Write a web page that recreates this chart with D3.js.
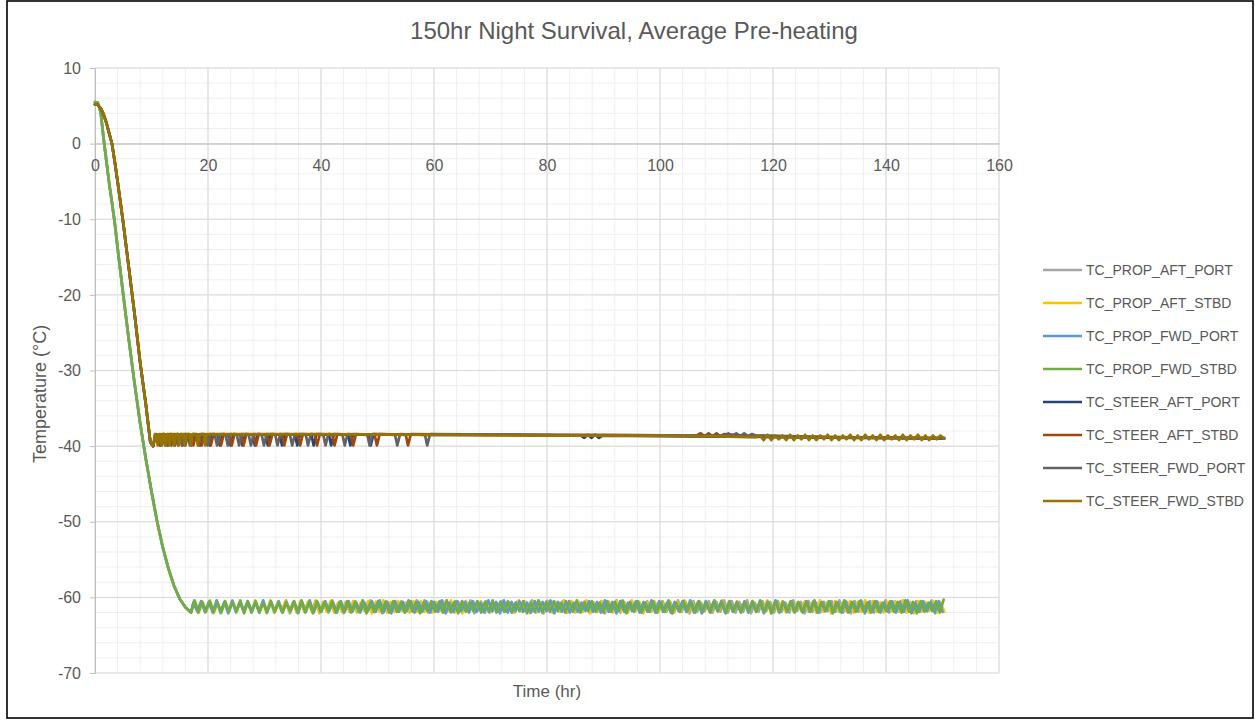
<!DOCTYPE html>
<html>
<head>
<meta charset="utf-8">
<script src="https://cdn.jsdelivr.net/npm/d3@7"></script>
<style>
  html, body { margin: 0; padding: 0; background: #fff; }
  svg { display: block; font-family: "Liberation Sans", Arial, sans-serif; }
</style>
</head>
<body>
<svg id="chart" width="1255" height="721"></svg>
<script>
// ---------------- DATA ----------------
const chartTitle = "150hr Night Survival, Average Pre-heating";
const xAxisTitle = "Time (hr)";
const yAxisTitle = "Temperature (°C)";
const xTickValues = [0, 20, 40, 60, 80, 100, 120, 140, 160];
const yTickValues = [10, 0, -10, -20, -30, -40, -50, -60, -70];

const seriesNames = ["TC_PROP_AFT_PORT", "TC_PROP_AFT_STBD", "TC_PROP_FWD_PORT", "TC_PROP_FWD_STBD",
                     "TC_STEER_AFT_PORT", "TC_STEER_AFT_STBD", "TC_STEER_FWD_PORT", "TC_STEER_FWD_STBD"];
const seriesColors = ["#A5A5A5", "#FFC000", "#5B9BD5", "#70AD47", "#264478", "#9E480E", "#636363", "#997300"];

// cool-down from start (prop sensors)
const propDescentHours = [0, 0.5, 1, 1.5, 2, 2.5, 3, 3.5, 4, 5, 6, 7, 8, 9, 10, 11, 12, 13, 14, 15, 16, 17];
const propDescentTemps = [5.5, 5.4, 4.2, 0.8, -2.2, -5.2, -7.8, -10.5, -13.8, -20, -26, -31.7, -37, -41.7, -46, -50, -53.4, -56.2, -58.5, -60.2, -61.3, -62];
// cool-down from start (steering sensors)
const steerDescentHours = [0, 0.5, 1, 1.5, 2, 2.5, 3, 3.5, 4, 5, 6, 7, 8, 9, 9.8, 10.3];
const steerDescentTemps = [5.2, 5.1, 4.7, 3.9, 2.8, 1.4, 0, -2.4, -5, -10.5, -16.5, -22.5, -29, -34.5, -39.5, -40];

// heater cycling of prop sensors (readings evenly logged between start and end hour)
const propCycleStartHours = [17.5, 17.7, 17.4, 17.6];
const propCycleEndHours = [150.1, 150.3, 150.0, 150.2];
const propAftPortTemps = [
-60.6,-61.9,-60.5,-62.0,-60.7,-61.8,-60.5,-62.1,-60.6,-61.9,-60.4,-62.0,-60.6,-61.9,-60.5,-61.8,-60.7,-62.0,-60.5,-61.9,
-60.5,-62.0,-60.6,-61.9,-60.4,-62.1,-60.7,-61.9,-60.5,-61.8,-60.6,-62.0,-60.5,-61.9,-60.7,-62.0,-60.4,-61.8,-60.6,-62.1,
-60.7,-61.8,-60.5,-61.9,-60.6,-62.0,-60.4,-61.9,-60.6,-62.1,-60.5,-61.9,-60.7,-61.8,-60.5,-62.0,-60.6,-61.9,-60.4,-62.0,
-60.4,-62.0,-60.6,-61.8,-60.5,-61.9,-60.7,-62.0,-60.5,-61.9,-60.6,-61.8,-60.4,-62.1,-60.6,-61.9,-60.5,-62.0,-60.7,-61.9,
-60.5,-61.9,-60.7,-62.0,-60.6,-61.8,-60.5,-61.9,-60.4,-62.0,-60.6,-62.1,-60.5,-61.9,-60.6,-61.8,-60.5,-62.0,-60.6,-61.9,
-60.6,-61.9,-60.5,-62.0,-60.7,-61.8,-60.5,-62.1,-60.6,-61.9,-60.4,-62.0,-60.6,-61.9,-60.5,-61.8,-60.7,-62.0,-60.5,-61.9,
-60.7,-61.8,-60.5,-61.9,-60.6,-62.0,-60.4,-61.9,-60.6,-62.1,-60.5,-61.9,-60.7,-61.8,-60.5,-62.0,-60.6,-61.9,-60.4,-62.0,
-60.5,-62.0,-60.6,-61.9,-60.4,-62.1,-60.7,-61.9,-60.5,-61.8,-60.6,-62.0,-60.5,-61.9,-60.7,-62.0,-60.4,-61.8,-60.6,-62.1,
-60.5,-61.9,-60.7,-62.0,-60.6,-61.8,-60.5,-61.9,-60.4,-62.0,-60.6,-62.1,-60.5,-61.9,-60.6,-61.8,-60.5,-62.0,-60.6,-61.9,
-60.4,-62.0,-60.6,-61.8,-60.5,-61.9,-60.7,-62.0,-60.5,-61.9,-60.6,-61.8,-60.4,-62.1,-60.6,-61.9];
const propAftStbdTemps = [
-60.5,-62.0,-60.6,-61.9,-60.4,-62.1,-60.7,-61.9,-60.5,-61.8,-60.6,-62.0,-60.5,-61.9,-60.7,-62.0,-60.4,-61.8,-60.6,-62.1,
-60.4,-62.0,-60.6,-61.8,-60.5,-61.9,-60.7,-62.0,-60.5,-61.9,-60.6,-61.8,-60.4,-62.1,-60.6,-61.9,-60.5,-62.0,-60.7,-61.9,
-60.6,-61.9,-60.5,-62.0,-60.7,-61.8,-60.5,-62.1,-60.6,-61.9,-60.4,-62.0,-60.6,-61.9,-60.5,-61.8,-60.7,-62.0,-60.5,-61.9,
-60.5,-61.9,-60.7,-62.0,-60.6,-61.8,-60.5,-61.9,-60.4,-62.0,-60.6,-62.1,-60.5,-61.9,-60.6,-61.8,-60.5,-62.0,-60.6,-61.9,
-60.7,-61.8,-60.5,-61.9,-60.6,-62.0,-60.4,-61.9,-60.6,-62.1,-60.5,-61.9,-60.7,-61.8,-60.5,-62.0,-60.6,-61.9,-60.4,-62.0,
-60.5,-62.0,-60.6,-61.9,-60.4,-62.1,-60.7,-61.9,-60.5,-61.8,-60.6,-62.0,-60.5,-61.9,-60.7,-62.0,-60.4,-61.8,-60.6,-62.1,
-60.6,-61.9,-60.5,-62.0,-60.7,-61.8,-60.5,-62.1,-60.6,-61.9,-60.4,-62.0,-60.6,-61.9,-60.5,-61.8,-60.7,-62.0,-60.5,-61.9,
-60.4,-62.0,-60.6,-61.8,-60.5,-61.9,-60.7,-62.0,-60.5,-61.9,-60.6,-61.8,-60.4,-62.1,-60.6,-61.9,-60.5,-62.0,-60.7,-61.9,
-60.7,-61.8,-60.5,-61.9,-60.6,-62.0,-60.4,-61.9,-60.6,-62.1,-60.5,-61.9,-60.7,-61.8,-60.5,-62.0,-60.6,-61.9,-60.4,-62.0,
-60.5,-61.9,-60.7,-62.0,-60.6,-61.8,-60.5,-61.9,-60.4,-62.0,-60.6,-62.1,-60.5,-61.9,-60.6,-61.8,-60.5,-62.0,-60.6,-61.9];
const propFwdPortTemps = [
-60.7,-61.8,-60.5,-61.9,-60.6,-62.0,-60.4,-61.9,-60.6,-62.1,-60.5,-61.9,-60.7,-61.8,-60.5,-62.0,-60.6,-61.9,-60.4,-62.0,
-60.6,-61.9,-60.5,-62.0,-60.7,-61.8,-60.5,-62.1,-60.6,-61.9,-60.4,-62.0,-60.6,-61.9,-60.5,-61.8,-60.7,-62.0,-60.5,-61.9,
-60.5,-61.9,-60.7,-62.0,-60.6,-61.8,-60.5,-61.9,-60.4,-62.0,-60.6,-62.1,-60.5,-61.9,-60.6,-61.8,-60.5,-62.0,-60.6,-61.9,
-60.5,-62.0,-60.6,-61.9,-60.4,-62.1,-60.7,-61.9,-60.5,-61.8,-60.6,-62.0,-60.5,-61.9,-60.7,-62.0,-60.4,-61.8,-60.6,-62.1,
-60.4,-62.0,-60.6,-61.8,-60.5,-61.9,-60.7,-62.0,-60.5,-61.9,-60.6,-61.8,-60.4,-62.1,-60.6,-61.9,-60.5,-62.0,-60.7,-61.9,
-60.7,-61.8,-60.5,-61.9,-60.6,-62.0,-60.4,-61.9,-60.6,-62.1,-60.5,-61.9,-60.7,-61.8,-60.5,-62.0,-60.6,-61.9,-60.4,-62.0,
-60.5,-61.9,-60.7,-62.0,-60.6,-61.8,-60.5,-61.9,-60.4,-62.0,-60.6,-62.1,-60.5,-61.9,-60.6,-61.8,-60.5,-62.0,-60.6,-61.9,
-60.6,-61.9,-60.5,-62.0,-60.7,-61.8,-60.5,-62.1,-60.6,-61.9,-60.4,-62.0,-60.6,-61.9,-60.5,-61.8,-60.7,-62.0,-60.5,-61.9,
-60.4,-62.0,-60.6,-61.8,-60.5,-61.9,-60.7,-62.0,-60.5,-61.9,-60.6,-61.8,-60.4,-62.1,-60.6,-61.9,-60.5,-62.0,-60.7,-61.9,
-60.5,-62.0,-60.6,-61.9,-60.4,-62.1,-60.7,-61.9,-60.5,-61.8,-60.6,-62.0,-60.5,-61.9];
const propFwdStbdTemps = [
-60.4,-62.0,-60.6,-61.8,-60.5,-61.9,-60.7,-62.0,-60.5,-61.9,-60.6,-61.8,-60.4,-62.1,-60.6,-61.9,-60.5,-62.0,-60.7,-61.9,
-60.5,-61.9,-60.7,-62.0,-60.6,-61.8,-60.5,-61.9,-60.4,-62.0,-60.6,-62.1,-60.5,-61.9,-60.6,-61.8,-60.5,-62.0,-60.6,-61.9,
-60.5,-62.0,-60.6,-61.9,-60.4,-62.1,-60.7,-61.9,-60.5,-61.8,-60.6,-62.0,-60.5,-61.9,-60.7,-62.0,-60.4,-61.8,-60.6,-62.1,
-60.7,-61.8,-60.5,-61.9,-60.6,-62.0,-60.4,-61.9,-60.6,-62.1,-60.5,-61.9,-60.7,-61.8,-60.5,-62.0,-60.6,-61.9,-60.4,-62.0,
-60.6,-61.9,-60.5,-62.0,-60.7,-61.8,-60.5,-62.1,-60.6,-61.9,-60.4,-62.0,-60.6,-61.9,-60.5,-61.8,-60.7,-62.0,-60.5,-61.9,
-60.4,-62.0,-60.6,-61.8,-60.5,-61.9,-60.7,-62.0,-60.5,-61.9,-60.6,-61.8,-60.4,-62.1,-60.6,-61.9,-60.5,-62.0,-60.7,-61.9,
-60.5,-62.0,-60.6,-61.9,-60.4,-62.1,-60.7,-61.9,-60.5,-61.8,-60.6,-62.0,-60.5,-61.9,-60.7,-62.0,-60.4,-61.8,-60.6,-62.1,
-60.5,-61.9,-60.7,-62.0,-60.6,-61.8,-60.5,-61.9,-60.4,-62.0,-60.6,-62.1,-60.5,-61.9,-60.6,-61.8,-60.5,-62.0,-60.6,-61.9,
-60.6,-61.9,-60.5,-62.0,-60.7,-61.8,-60.5,-62.1,-60.6,-61.9,-60.4,-62.0,-60.6,-61.9,-60.5,-61.8,-60.7,-62.0,-60.5,-61.9,
-60.7,-61.8,-60.5,-61.9,-60.6,-62.0,-60.4,-61.9,-60.6,-62.1,-60.5,-61.9,-60.7,-61.8,-60.5,-62.0,-60.3];

// heater cycling of steering sensors: [hour, temp] readings after the cool-down
const steerAftPortPts = [[10.7,-38.5],
[11.2,-38.5],[11.6,-39.9],[12.1,-38.4],[12.4,-38.5],[12.8,-39.9],[13.3,-38.4],[13.7,-38.5],[14.1,-39.9],[14.6,-38.4],
[15.1,-38.5],[15.5,-39.9],[16.0,-38.4],[16.6,-38.5],[17.0,-39.9],[17.5,-38.4],[18.2,-38.5],[18.6,-39.9],[19.1,-38.4],
[19.9,-38.5],[20.3,-39.9],[20.8,-38.4],[21.7,-38.5],[22.1,-39.9],[22.6,-38.4],[23.6,-38.5],[24.0,-39.9],[24.5,-38.4],
[25.7,-38.5],[26.1,-39.9],[26.6,-38.4],[27.9,-38.5],[28.3,-39.9],[28.8,-38.4],[30.2,-38.5],[30.6,-39.9],[31.1,-38.4],
[32.7,-38.5],[33.1,-39.9],[33.6,-38.4],[35.4,-38.5],[35.8,-39.9],[36.3,-38.4],[38.3,-38.5],[38.7,-39.9],[39.2,-38.4],
[41.4,-38.5],[41.8,-39.9],[42.3,-38.4],[44.8,-38.5],[45.2,-39.9],[45.7,-38.4],[48.4,-38.5],[48.8,-39.9],[49.3,-38.4],
[60,-38.5],[75,-38.5],[86,-38.6],[86.6,-38.9],[87.2,-38.5],[87.9,-38.9],[88.5,-38.5],[89.2,-38.9],[89.8,-38.6],
[105,-38.7],[120,-38.8],[135,-38.9],[150.3,-39.0]];
const steerAftStbdPts = [[10.7,-38.5],
[11.0,-38.5],[11.4,-39.9],[11.9,-38.4],[12.0,-38.5],[12.4,-39.9],[12.9,-38.4],[13.1,-38.5],[13.5,-39.9],[14.0,-38.4],
[14.3,-38.5],[14.7,-39.9],[15.2,-38.4],[15.6,-38.5],[16.0,-39.9],[16.5,-38.4],[17.0,-38.5],[17.4,-39.9],[17.9,-38.4],
[18.5,-38.5],[18.9,-39.9],[19.4,-38.4],[20.1,-38.5],[20.5,-39.9],[21.0,-38.4],[21.9,-38.5],[22.3,-39.9],[22.8,-38.4],
[23.8,-38.5],[24.2,-39.9],[24.7,-38.4],[25.9,-38.5],[26.3,-39.9],[26.8,-38.4],[28.1,-38.5],[28.5,-39.9],[29.0,-38.4],
[30.5,-38.5],[30.9,-39.9],[31.4,-38.4],[33.1,-38.5],[33.5,-39.9],[34.0,-38.4],[35.9,-38.5],[36.3,-39.9],[36.8,-38.4],
[38.9,-38.5],[39.3,-39.9],[39.8,-38.4],[42.0,-38.5],[42.4,-39.9],[42.9,-38.4],[45.3,-38.5],[45.7,-39.9],[46.2,-38.4],
[49.5,-38.5],[49.9,-39.9],[50.4,-38.4],[55.0,-38.5],[55.4,-39.9],[55.9,-38.4],
[70,-38.5],[90,-38.5],[106.5,-38.6],[107.2,-38.3],[107.9,-38.7],[108.6,-38.3],[109.3,-38.7],[110,-38.3],[110.7,-38.7],
[111.4,-38.4],[115,-38.6],[130,-38.8],[150.3,-38.9]];
const steerFwdPortPts = [[10.7,-38.5],
[11.4,-38.5],[11.8,-39.9],[12.3,-38.4],[12.5,-38.5],[12.9,-39.9],[13.4,-38.4],[13.7,-38.5],[14.1,-39.9],[14.6,-38.4],
[15.0,-38.5],[15.4,-39.9],[15.9,-38.4],[16.4,-38.5],[16.8,-39.9],[17.3,-38.4],[17.9,-38.5],[18.3,-39.9],[18.8,-38.4],
[19.5,-38.5],[19.9,-39.9],[20.4,-38.4],[21.2,-38.5],[21.6,-39.9],[22.1,-38.4],[23.1,-38.5],[23.5,-39.9],[24.0,-38.4],
[25.1,-38.5],[25.5,-39.9],[26.0,-38.4],[27.2,-38.5],[27.6,-39.9],[28.1,-38.4],[29.5,-38.5],[29.9,-39.9],[30.4,-38.4],
[31.9,-38.5],[32.3,-39.9],[32.8,-38.4],[34.5,-38.5],[34.9,-39.9],[35.4,-38.4],[37.3,-38.5],[37.7,-39.9],[38.2,-38.4],
[40.4,-38.5],[40.8,-39.9],[41.3,-38.4],[43.8,-38.5],[44.2,-39.9],[44.7,-38.4],[48.2,-38.5],[48.6,-39.9],[49.1,-38.4],
[53.1,-38.5],[53.5,-39.9],[54.0,-38.4],[58.4,-38.5],[58.8,-39.9],[59.3,-38.4],
[75,-38.5],[95,-38.6],[111.5,-38.6],[112.1,-38.3],[112.8,-38.7],[113.5,-38.3],[114.2,-38.7],[114.9,-38.3],[115.6,-38.7],
[116.3,-38.4],[117,-38.6],[130,-38.8],[150.3,-39.0]];
const steerFwdStbdPts = [[10.6,-38.4],
[10.85,-38.4],[11.1,-39.9],[11.4,-38.4],[11.55,-38.4],[11.8,-39.9],[12.1,-38.4],[12.25,-38.4],[12.5,-39.9],[12.8,-38.4],
[12.95,-38.4],[13.2,-39.9],[13.5,-38.4],[13.75,-38.4],[14.0,-39.9],[14.3,-38.4],[14.65,-38.4],[14.9,-39.9],[15.2,-38.4],
[15.65,-38.4],[15.9,-39.9],[16.2,-38.4],[16.75,-38.4],[17.0,-39.9],[17.3,-38.4],[17.95,-38.4],[18.2,-39.9],[18.5,-38.4],
[19.25,-38.4],[19.5,-39.9],[19.8,-38.4],
[40,-38.4],[60,-38.5],[80,-38.6],[100,-38.6],[110,-38.7],[117,-38.8]];
// late small ripple of TC_STEER_FWD_STBD (evenly logged readings)
const steerFwdStbdRippleStart = 117.7;
const steerFwdStbdRippleEnd = 150.3;
const steerFwdStbdRippleTemps = [
-38.6,-39.2,-38.5,-39.2,-38.6,-39.1,-38.6,-39.2,-38.5,-39.2,
-38.6,-39.1,-38.5,-39.2,-38.6,-39.2,-38.6,-39.1,-38.5,-39.2,
-38.6,-39.2,-38.6,-39.1,-38.5,-39.2,-38.6,-39.2,-38.5,-39.1,
-38.6,-39.2,-38.5,-39.2,-38.6,-39.1,-38.6,-39.2,-38.5,-39.2,
-38.6,-39.1,-38.5,-39.2,-38.6,-39.2,-38.6,-39.1,-38.6,-39.0];

// ---------------- BUILD SERIES ----------------
function evenlyLogged(start, end, temps) {
  const n = temps.length;
  return temps.map((v, i) => [start + i * (end - start) / (n - 1), v]);
}
const propDescent = propDescentHours.map((h, i) => [h, propDescentTemps[i]]);
const steerDescent = steerDescentHours.map((h, i) => [h, steerDescentTemps[i]]);
const propTemps = [propAftPortTemps, propAftStbdTemps, propFwdPortTemps, propFwdStbdTemps];
const seriesData = [
  ...propTemps.map((t, k) => propDescent.concat(evenlyLogged(propCycleStartHours[k], propCycleEndHours[k], t))),
  steerDescent.concat(steerAftPortPts),
  steerDescent.concat(steerAftStbdPts),
  steerDescent.concat(steerFwdPortPts),
  steerDescent.concat(steerFwdStbdPts, evenlyLogged(steerFwdStbdRippleStart, steerFwdStbdRippleEnd, steerFwdStbdRippleTemps))
];

// ---------------- DRAW ----------------
const svg = d3.select("#chart");
const textColor = "#595959";
const plot = { left: 95, right: 999, top: 68, bottom: 673 };
const x = d3.scaleLinear().domain([0, 160]).range([plot.left, plot.right]);
const y = d3.scaleLinear().domain([-70, 10]).range([plot.bottom, plot.top]);
const plainNumber = d => String(d);

// chart frame
svg.append("rect").attr("x", 7).attr("y", 1).attr("width", 1246).attr("height", 717)
  .attr("fill", "#fff").attr("stroke", "#000").attr("stroke-width", 1.6);

// minor gridlines
const grid = svg.append("g");
grid.selectAll(".vminor").data(d3.range(0, 161, 4)).join("line")
  .attr("x1", d => x(d)).attr("x2", d => x(d)).attr("y1", plot.top).attr("y2", plot.bottom)
  .attr("stroke", "#efefef").attr("stroke-width", 1);
grid.selectAll(".hminor").data(d3.range(-70, 11, 2)).join("line")
  .attr("y1", d => y(d)).attr("y2", d => y(d)).attr("x1", plot.left).attr("x2", plot.right)
  .attr("stroke", "#efefef").attr("stroke-width", 1);
// major gridlines
grid.selectAll(".vmajor").data(xTickValues).join("line")
  .attr("x1", d => x(d)).attr("x2", d => x(d)).attr("y1", plot.top).attr("y2", plot.bottom)
  .attr("stroke", "#d9d9d9").attr("stroke-width", 1);
grid.selectAll(".hmajor").data(yTickValues).join("line")
  .attr("y1", d => y(d)).attr("y2", d => y(d)).attr("x1", plot.left).attr("x2", plot.right)
  .attr("stroke", "#d9d9d9").attr("stroke-width", 1);

// y axis
const yAxis = d3.axisLeft(y).tickValues(yTickValues).tickFormat(plainNumber).tickSize(5).tickPadding(9);
const gy = svg.append("g").attr("transform", `translate(${plot.left},0)`).call(yAxis);
gy.select(".domain").attr("stroke", "#bfbfbf");
gy.selectAll(".tick line").attr("stroke", "#bfbfbf");
gy.selectAll("text").attr("fill", textColor).attr("font-size", 16)
  .attr("font-family", "'Liberation Sans', Arial, sans-serif");

// x axis across y = 0
const xAxis = d3.axisBottom(x).tickValues(xTickValues).tickFormat(plainNumber).tickSize(0).tickPadding(16);
const gx = svg.append("g").attr("transform", `translate(0,${y(0)})`).call(xAxis);
gx.select(".domain").attr("stroke", "#bfbfbf");
gx.selectAll("text").attr("fill", textColor).attr("font-size", 16)
  .attr("font-family", "'Liberation Sans', Arial, sans-serif");

// series lines
const line = d3.line().x(d => x(d[0])).y(d => y(d[1]));
svg.append("g").selectAll("path").data(seriesData).join("path")
  .attr("d", line)
  .attr("fill", "none")
  .attr("stroke", (d, i) => seriesColors[i])
  .attr("stroke-width", 2.7)
  .attr("stroke-linejoin", "round")
  .attr("stroke-linecap", "round");

// title
svg.append("text").attr("x", 634).attr("y", 39).attr("text-anchor", "middle")
  .attr("font-size", 24).attr("fill", textColor).text(chartTitle);
// axis titles
svg.append("text").attr("x", x(80)).attr("y", 697).attr("text-anchor", "middle")
  .attr("font-size", 17).attr("fill", textColor).text(xAxisTitle);
svg.append("text").attr("transform", "translate(46,394) rotate(-90)").attr("text-anchor", "middle")
  .attr("font-size", 18).attr("fill", textColor).text(yAxisTitle);

// legend
const legend = svg.append("g").attr("transform", "translate(1043,270)");
const items = legend.selectAll("g").data(seriesNames).join("g")
  .attr("transform", (d, i) => `translate(0,${i * 33})`);
items.append("line").attr("x1", 0).attr("x2", 39).attr("y1", 0).attr("y2", 0)
  .attr("stroke", (d, i) => seriesColors[i]).attr("stroke-width", 2.6);
items.append("text").attr("x", 43).attr("y", 0).attr("dy", "0.35em")
  .attr("font-size", 14).attr("fill", textColor).text(d => d);
</script>
</body>
</html>
